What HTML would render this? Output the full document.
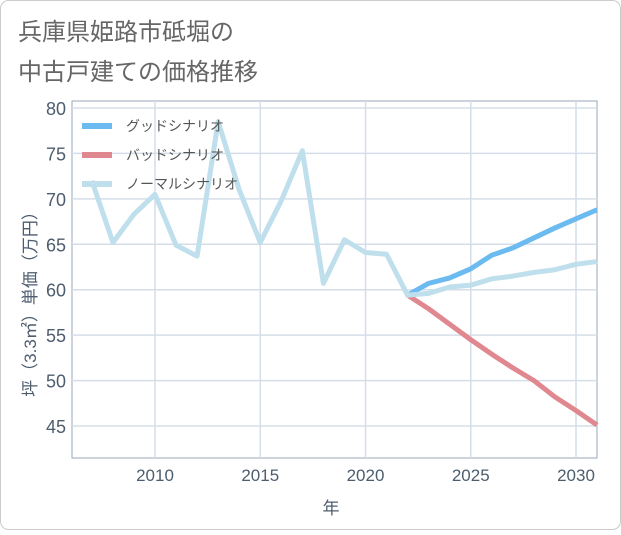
<!DOCTYPE html>
<html><head><meta charset="utf-8"><style>
body{margin:0;background:#fff;}
svg text{font-family:"Liberation Sans","Noto Sans CJK JP",sans-serif;}
</style></head><body>
<svg width="621" height="530" viewBox="0 0 621 530">
<rect x="0.5" y="0.5" width="620" height="529" rx="8" fill="#fff" stroke="#ccc"/>
<text x="18" y="40" font-size="24" fill="#666">兵庫県姫路市砥堀の</text>
<text x="18" y="80" font-size="24" fill="#666">中古戸建ての価格推移</text>
<g id="grid"></g>
<g id="series"></g>
<g id="legend"></g>
<text x="331" y="514" font-size="17" fill="#4d5d6e" text-anchor="middle">年</text>
<text transform="translate(36,300) rotate(-90)" font-size="17" fill="#4d5d6e" text-anchor="middle">坪（3.3㎡）単価（万円）</text>
</svg>
<script>
const years=[2007,2008,2009,2010,2011,2012,2013,2014,2015,2016,2017,2018,2019,2020,2021,2022,2023,2024,2025,2026,2027,2028,2029,2030,2031];
const normal=[72,65.2,68.3,70.5,64.9,63.7,78.5,71,65.2,69.8,75.3,60.7,65.5,64.1,63.9,59.4,59.6,60.3,60.5,61.2,61.5,61.9,62.2,62.8,63.1];
const futureYears=[2022,2023,2024,2025,2026,2027,2028,2029,2030,2031];
const good=[59.4,60.7,61.3,62.3,63.8,64.6,65.7,66.8,67.8,68.8];
const bad=[59.4,57.9,56.2,54.5,52.9,51.4,50.0,48.2,46.7,45.1];
const xTicks=[2010,2015,2020,2025,2030];
const yTicks=[45,50,55,60,65,70,75,80];
const L=72,R=597,T=101,B=458;
const x=v=>155+(v-2010)*21.05;
const y=v=>108+(80-v)*9.086;
const NS="http://www.w3.org/2000/svg";
function mk(tag,attrs,parent){const e=document.createElementNS(NS,tag);for(const k in attrs)e.setAttribute(k,attrs[k]);parent.appendChild(e);return e;}
const g=document.getElementById('grid');
const bg=mk('rect',{x:L,y:T,width:R-L,height:B-T,fill:'#fff',stroke:'#9aa7b4'},g);


yTicks.forEach(v=>{
 const l=mk('line',{x1:L,x2:R,y1:y(v),y2:y(v),stroke:'#d5dee8','stroke-width':1.5},g);
 
 
 const t=mk('text',{x:L-6,y:y(v)+7,'font-size':18,fill:'#4d5d6e','text-anchor':'end'},g);t.textContent=v;
 
 
});
xTicks.forEach(v=>{
 const l=mk('line',{x1:x(v),x2:x(v),y1:T,y2:B,stroke:'#d5dee8','stroke-width':1.5},g);
 
 
 const t=mk('text',{x:x(v),y:B+23,'font-size':17,fill:'#4d5d6e','text-anchor':'middle'},g);t.textContent=v;
 
 
});
const s=document.getElementById('series');
function line(xs,vs,color,name){
 const p=mk('polyline',{points:xs.map((yr,i)=>x(yr)+','+y(vs[i])).join(' '),fill:'none',stroke:color,'stroke-width':5,'stroke-linejoin':'round'},s);
 
 
}
line(futureYears,bad,'#e0888f','bad-scenario-line');
line(futureYears,good,'#6bbaf0','good-scenario-line');
line(years,normal,'#bfdfec','normal-scenario-line');
const lg=document.getElementById('legend');
[['グッドシナリオ','#6bbaf0',126],['バッドシナリオ','#e0888f',155],['ノーマルシナリオ','#bfdfec',184]].forEach(([n,c,yy])=>{
 const r=mk('line',{x1:82,x2:112,y1:yy,y2:yy,stroke:c,'stroke-width':6},lg);
 
 
 const t=mk('text',{x:126,y:yy+5,'font-size':14,fill:'#555'},lg);t.textContent=n;
 
 
});
</script>
</body></html>
